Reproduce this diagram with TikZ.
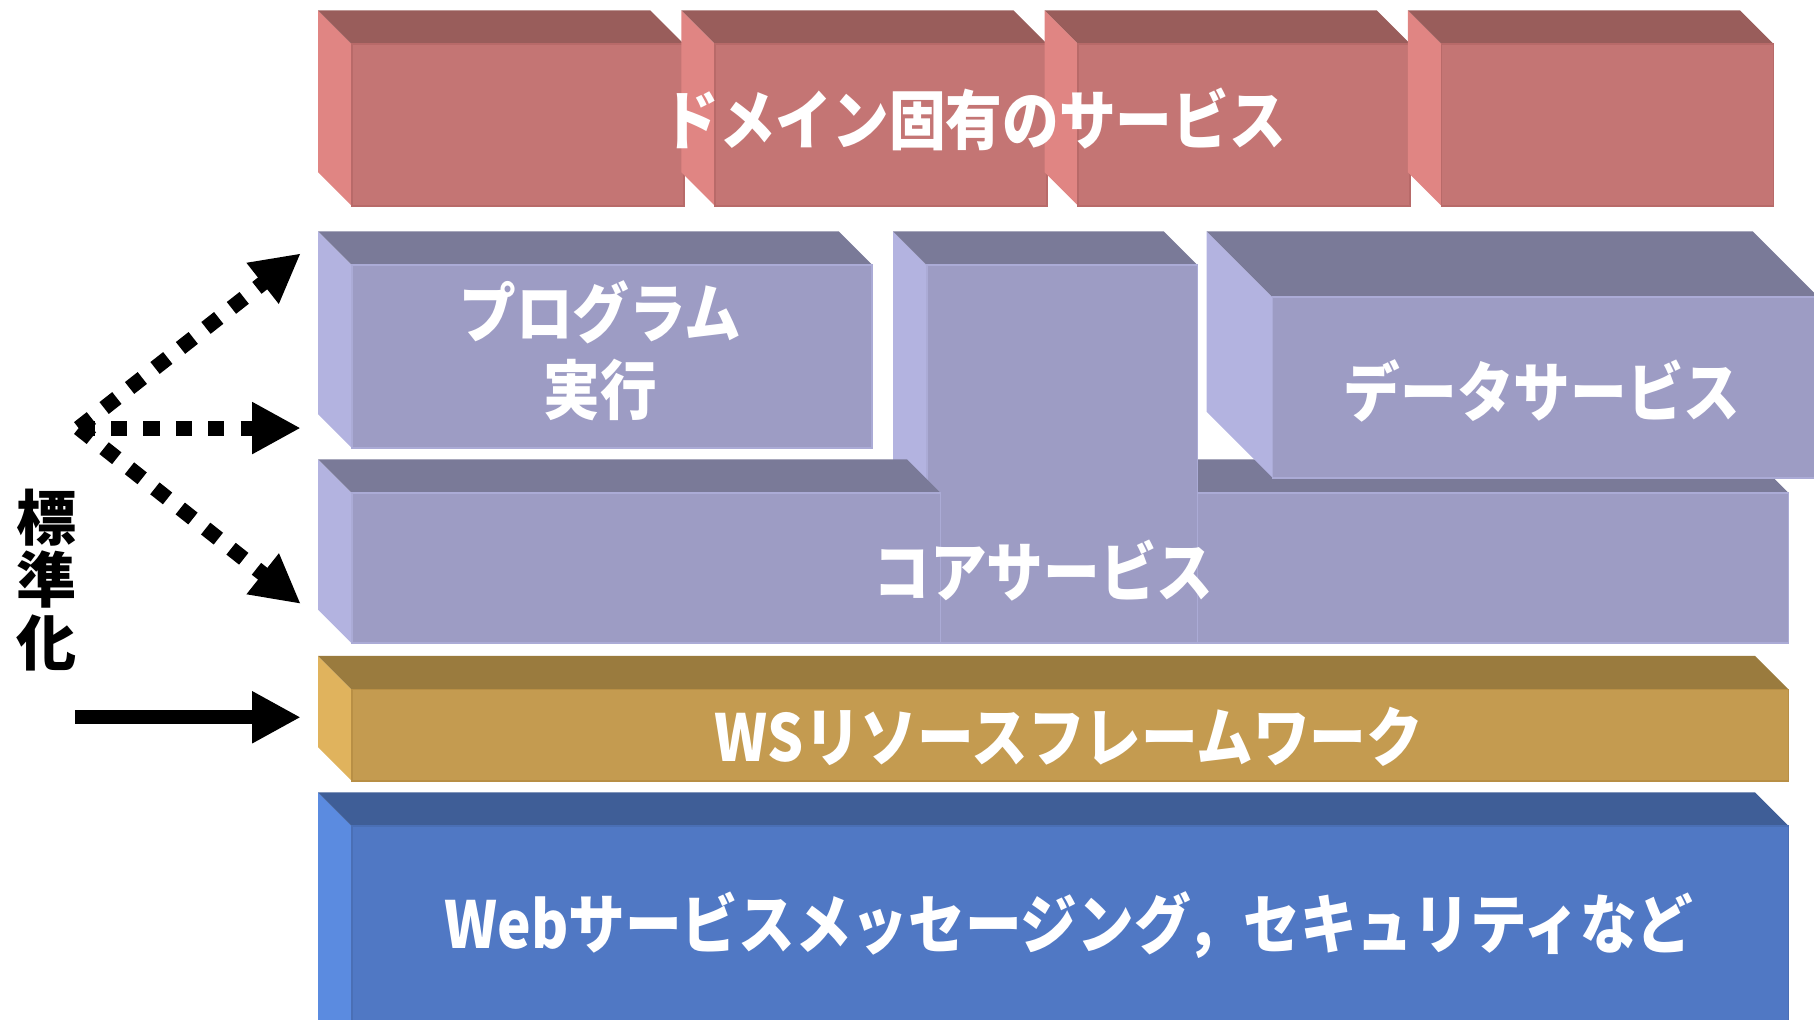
\documentclass[tikz,border=0pt]{standalone}
\usepackage{fontspec}
\newfontfamily\jp{Noto Sans CJK JP}
\newfontfamily\jpn{Noto Sans CJK JP}[FakeStretch=0.875]
\usetikzlibrary{arrows.meta}
\definecolor{rfront}{HTML}{C47574}
\definecolor{rtop}{HTML}{995D5B}
\definecolor{rside}{HTML}{E08583}
\definecolor{redge}{HTML}{B86A69}
\definecolor{pfront}{HTML}{9D9CC4}
\definecolor{ptop}{HTML}{7A7A98}
\definecolor{pside}{HTML}{B3B3E0}
\definecolor{pedge}{HTML}{ABABD6}
\definecolor{gfront}{HTML}{C49B50}
\definecolor{gtop}{HTML}{9A7B3E}
\definecolor{gside}{HTML}{E0B35D}
\definecolor{gedge}{HTML}{B88F45}
\definecolor{bfront}{HTML}{5078C4}
\definecolor{btop}{HTML}{3F5E97}
\definecolor{bside}{HTML}{5B8BE0}
\definecolor{bedge}{HTML}{4A6FB5}
\tikzset{
  redside/.style={fill=rside}, redtop/.style={fill=rtop}, redfront/.style={fill=rfront, draw=redge, line width=1.5pt},
  purside/.style={fill=pside}, purtop/.style={fill=ptop}, purfront/.style={fill=pfront, draw=pedge, line width=1.5pt},
  goldside/.style={fill=gside}, goldtop/.style={fill=gtop}, goldfront/.style={fill=gfront, draw=gedge, line width=1.5pt},
  blueside/.style={fill=bside}, bluetop/.style={fill=btop}, bluefront/.style={fill=bfront, draw=bedge, line width=1.5pt},
  lbl/.style={text=white, font=\jpn\bfseries\fontsize{56}{67}\selectfont, inner sep=0pt, align=center},
  sidelbl/.style={text=black, font=\jp\bfseries\fontsize{52}{54}\selectfont, inner sep=0pt, align=center},
  solidarr/.style={line width=12pt, -{Triangle[length=42pt,width=42pt]}},
  dotarr/.style={line width=13pt, dash pattern=on 14pt off 14pt, -{Triangle[length=42pt,width=42pt]}}
}
% L T R B depth prefix
\newcommand\slab[6]{%
  \path[#6side] (#1,#2) -- ({#1+#5},{#2+#5}) -- ({#1+#5},#4) -- (#1,{#4-#5}) -- cycle;
  \path[#6top] (#1,#2) -- ({#3-#5},#2) -- (#3,{#2+#5}) -- ({#1+#5},{#2+#5}) -- cycle;
  \path[#6front] ({#1+#5},{#2+#5}) rectangle (#3,#4);
}
\begin{document}
\begin{tikzpicture}[x=1pt,y=-1pt]
\useasboundingbox (0,0) rectangle (1568,881);
\clip (0,0) rectangle (1568,881);
% red row
\slab{275}{9}{591}{178}{29}{red}
\slab{589}{9}{905}{178}{29}{red}
\slab{903}{9}{1219}{178}{29}{red}
\slab{1217}{9}{1533}{178}{29}{red}
% purple
\slab{275}{200}{754}{387}{29}{pur}
\slab{1006}{397}{1546}{556}{29}{pur}
\slab{772}{200}{1035}{556}{29}{pur}
\slab{275}{397}{813}{556}{29}{pur}
\slab{1043}{200}{1572}{413}{57}{pur}
% gold and blue
\slab{275}{567}{1546}{675}{29}{gold}
\slab{275}{685}{1546}{930}{29}{blue}
% labels
\node[lbl] (dom) at (842,103) {ドメイン固有のサービス};
\node[lbl] (prog) at (519,303) {プログラム\\実行};
\node[lbl] (data) at (1333,338) {データサービス};
\node[lbl] (core) at (902,493) {コアサービス};
\node[lbl] (wsrf) at (924,637) {WSリソースフレームワーク};
\node[lbl] (web) at (924,800) {Webサービスメッセージング，セキュリティなど};
\node[sidelbl] (std) at (40,501) {標\\準\\化};
% arrows
\coordinate (o) at (68,370);
\coordinate (t1) at (260,219);
\coordinate (t2) at (260,370);
\coordinate (t3) at (260,522);
\coordinate (s0) at (65,620);
\coordinate (s1) at (260,620);
\draw[dotarr] (o) -- (t1);
\draw[dotarr] (o) -- (t2);
\draw[dotarr] (o) -- (t3);
\draw[solidarr] (s0) -- (s1);
\end{tikzpicture}
\end{document}
